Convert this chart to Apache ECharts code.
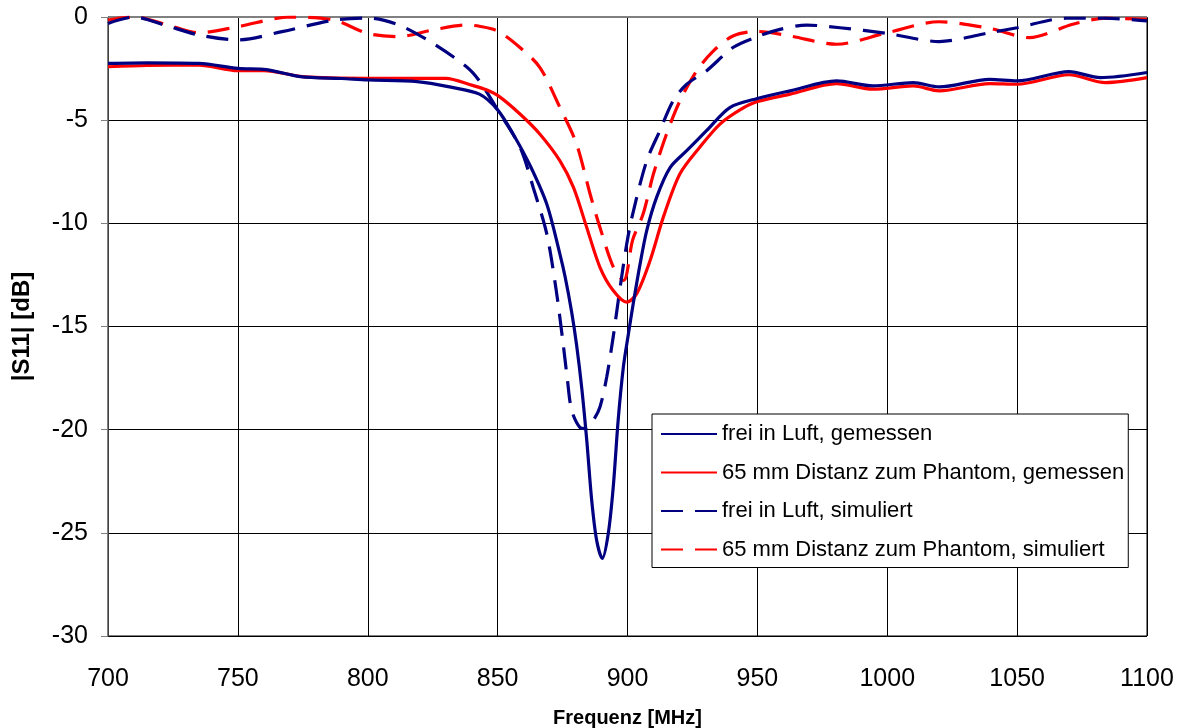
<!DOCTYPE html>
<html>
<head>
<meta charset="utf-8">
<script src="https://cdn.jsdelivr.net/npm/echarts@6/dist/echarts.min.js"></script>
<style>
html,body{margin:0;padding:0;background:#fff;}
#chart{width:1186px;height:728px;}
</style>
</head>
<body>
<div id="chart"></div>
<script>
// Series names (legend)
const seriesNames = [
  'frei in Luft, gemessen',
  '65 mm Distanz zum Phantom, gemessen',
  'frei in Luft, simuliert',
  '65 mm Distanz zum Phantom, simuliert'
];
// [frequency MHz, |S11| dB]
const luftGemessen = [
  [700,-2.25],[715,-2.22],[735,-2.25],[750,-2.49],[761,-2.55],[774,-2.89],[790,-2.98],[800,-3.05],
  [819,-3.13],[832,-3.4],[843,-3.74],[850,-4.5],[856,-5.68],[862.5,-7.2],[869,-9.1],[874,-11.5],
  [876,-12.6],[878.5,-14.3],[880.4,-15.9],[882.4,-18.0],[884.3,-20.5],[886.2,-23.4],[888.1,-25.35],[890.3,-26.24],
  [892.6,-25.03],[894.5,-22.8],[896.4,-19.55],[898.4,-16.97],[900.3,-15.4],[902.2,-13.9],[904.8,-12.0],
  [907.4,-10.35],[911.2,-8.74],[916.4,-7.3],[922.8,-6.48],[930.5,-5.5],[939.4,-4.39],[950,-3.95],
  [962.6,-3.58],[980.5,-3.1],[994.5,-3.34],[1010,-3.18],[1020,-3.39],[1039.4,-3.02],[1050,-3.1],
  [1070,-2.65],[1082,-2.94],[1100,-2.69]
];
const phantomGemessen = [
  [700,-2.41],[715,-2.35],[735,-2.33],[750,-2.6],[760,-2.6],[775,-2.89],[800,-2.97],[830,-2.97],
  [840,-3.3],[845,-3.5],[850,-3.8],[858.6,-4.7],[866.3,-5.68],[874,-6.97],[879.2,-8.26],[884.3,-10.2],
  [889.4,-12.13],[894.5,-13.26],[899.7,-13.82],[903.5,-13.42],[908.7,-11.8],[913.8,-9.7],[920.2,-7.6],
  [927.9,-6.3],[935.6,-5.19],[943.3,-4.5],[950,-4.1],[962.6,-3.74],[980.5,-3.23],[994.5,-3.5],
  [1010,-3.34],[1020,-3.58],[1039.4,-3.23],[1050,-3.26],[1070,-2.8],[1084,-3.18],[1100,-2.94]
];
const luftSimuliert = [
  [700,-0.31],[710,0],[722,-0.4],[735,-0.87],[750,-1.11],[767,-0.71],[787,-0.15],[800,-0.05],
  [812,-0.39],[825,-1.27],[838,-2.41],[843,-3.1],[850,-4.5],[858.6,-6.3],[863.7,-8.26],[868.9,-10.5],
  [872.5,-13.2],[875,-15.6],[876.8,-17.5],[878.5,-19.06],[881.7,-19.9],[883.6,-19.95],[886.8,-19.55],
  [889.4,-18.9],[892,-17.45],[894.5,-15.5],[896.6,-13.6],[899.7,-11.0],[902,-9.55],[907.4,-6.97],
  [912.5,-5.5],[917.6,-4.06],[922.8,-3.26],[930.5,-2.6],[940.6,-1.48],[950,-0.95],[958.7,-0.6],
  [969,-0.39],[981.8,-0.52],[1000,-0.8],[1020,-1.19],[1039.4,-0.76],[1050,-0.52],[1068.8,-0.06],
  [1084,-0.06],[1100,-0.19]
];
const phantomSimuliert = [
  [700,-0.15],[710,0],[722,-0.35],[735,-0.76],[750,-0.47],[770,0],[787,-0.15],[800,-0.8],
  [812,-0.95],[825,-0.63],[838,-0.39],[843,-0.45],[850,-0.68],[858.6,-1.48],[866.3,-2.45],[874,-4.39],
  [880.4,-6.16],[885.6,-8.58],[889.4,-10.2],[894.6,-12.13],[898.5,-12.77],[902,-10.8],[906,-9.55],
  [910,-7.6],[915,-5.68],[920.2,-4.06],[926.7,-2.6],[933,-1.65],[940.6,-0.92],[950,-0.7],
  [962.6,-0.92],[980.5,-1.32],[1000,-0.76],[1020,-0.23],[1039.4,-0.55],[1054.7,-1.0],[1071.4,-0.35],
  [1084,-0.06],[1100,-0.11]
];
const seriesData = [luftGemessen, phantomGemessen, luftSimuliert, phantomSimuliert];
const seriesColors = ['#000080', '#ff0000', '#000080', '#ff0000'];
const seriesDashed = [false, false, true, true];

const FONT = "'Liberation Sans', Arial, sans-serif";
const chart = echarts.init(document.getElementById('chart'), null, {renderer: 'canvas'});
chart.setOption({
  animation: false,
  backgroundColor: '#fff',
  textStyle: {fontFamily: FONT},
  grid: {left: 108, right: 39, top: 17, bottom: 92, show: true, borderColor: '#000', borderWidth: 1,
         containLabel: false, outerBoundsMode: 'none'},
  xAxis: {
    type: 'value', min: 700, max: 1100, interval: 50,
    name: 'Frequenz [MHz]', nameLocation: 'middle', nameGap: 72,
    nameTextStyle: {fontFamily: FONT, fontSize: 20, fontWeight: 'bold', color: '#000'},
    axisLine: {show: true, lineStyle: {color: '#808080', width: 1}},
    axisTick: {show: false},
    axisLabel: {fontFamily: FONT, fontSize: 25, color: '#000', margin: 31, formatter: v => String(v)},
    splitLine: {show: true, lineStyle: {color: '#000', width: 1}}
  },
  yAxis: {
    type: 'value', min: -30, max: 0, interval: 5,
    name: '|S11| [dB]', nameLocation: 'middle', nameGap: 74,
    nameTextStyle: {fontFamily: FONT, fontSize: 24, fontWeight: 'bold', color: '#000'},
    axisLine: {show: true, lineStyle: {color: '#404040', width: 1}},
    axisTick: {show: true, inside: false, length: 7, lineStyle: {color: '#808080'}},
    axisLabel: {fontFamily: FONT, fontSize: 25, color: '#000', margin: 20, formatter: v => String(v)},
    splitLine: {show: true, lineStyle: {color: '#000', width: 1}}
  },
  legend: {
    orient: 'vertical', left: 652, top: 414,
    data: seriesNames,
    backgroundColor: '#fff', borderColor: '#000', borderWidth: 1,
    padding: [7, 4, 5, 8],
    itemWidth: 56, itemHeight: 14, itemGap: 12.5,
    itemStyle: {opacity: 0},
    textStyle: {fontFamily: FONT, fontSize: 22, color: '#000', lineHeight: 26}
  },
  series: seriesNames.map((name, i) => ({
    name: name,
    type: 'line',
    data: seriesData[i],
    symbol: 'none',
    smooth: 0.3,
    clip: true,
    lineStyle: {color: seriesColors[i], width: 3.2, type: seriesDashed[i] ? [22, 12] : 'solid'},
    itemStyle: {color: seriesColors[i]},
    z: 3 + (3 - i)
  }))
});
</script>
</body>
</html>
